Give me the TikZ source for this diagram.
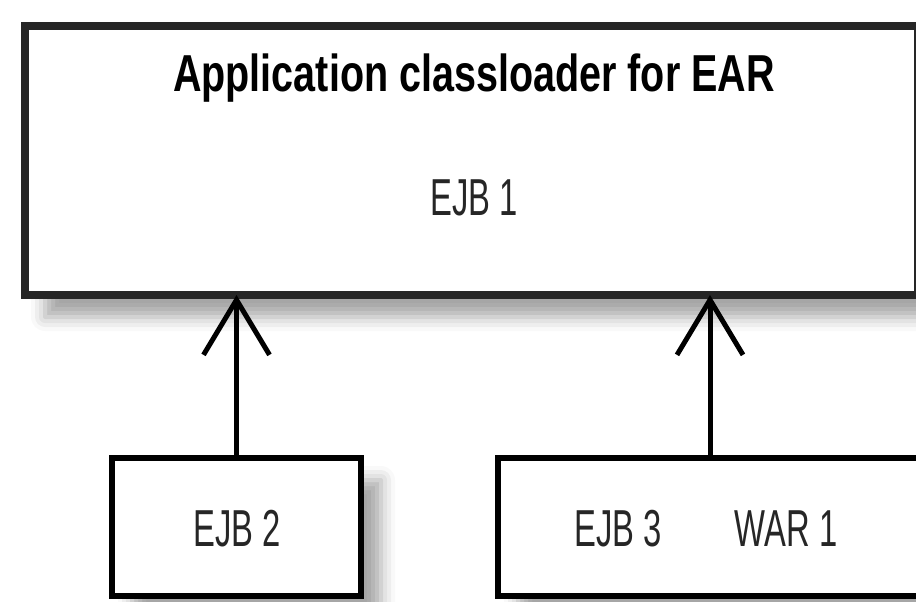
\documentclass[tikz,border=0pt]{standalone}
\usepackage{fontspec}
\usetikzlibrary{arrows.meta,shadows.blur}
\newfontfamily\titlefont[FakeStretch=0.76]{Liberation Sans}
\newfontfamily\labelfont[FakeStretch=0.63]{Liberation Sans}

\begin{document}
\begin{tikzpicture}[x=1pt,y=-1pt,
  shade/.style={blur shadow={shadow xshift=20pt, shadow yshift=-22pt,
      shadow blur radius=14pt, shadow opacity=35}},
  loaderbox/.style={shade, draw=black!85, line width=8pt, fill=white,
      inner sep=0pt, outer sep=0pt},
  modbox/.style={shade, draw=black, line width=6pt, fill=white,
      inner sep=0pt, outer sep=0pt},
  dep/.style={line width=5pt,
      -{Straight Barb[length=55pt,width=66pt,line width=5pt]}},
  title/.style={font=\titlefont\bfseries\fontsize{52}{52}\selectfont,
      anchor=base, inner sep=0pt},
  lbl/.style={font=\labelfont\fontsize{52}{52}\selectfont, text=black!85,
      anchor=base, inner sep=0pt}]
\useasboundingbox (0,0) rectangle (916,602);
\clip (0,0) rectangle (916,602);

% class loader of the EAR
\node[loaderbox, minimum width=893pt, minimum height=269pt] (ear) at (471.5,160.5) {};
\node[title] (eartitle) at (474,92) {Application classloader for EAR};
\node[lbl] (ejbone) at (474,215) {EJB 1};

% modules with their own loaders
\node[modbox, minimum width=249pt, minimum height=138pt] (ejbtwo) at (236.5,527) {};
\node[lbl] (ejbtwolbl) at (237,546) {EJB 2};

\node[modbox, minimum width=424pt, minimum height=138pt] (mixed) at (710,527) {};
\node[lbl] (ejbthree) at (618,546) {EJB 3};
\node[lbl] (warone) at (786,546) {WAR 1};

% parent delegation
\draw[dep] (ejbtwo.north) -- (ejbtwo.north |- ear.south);
\draw[dep] (mixed.north) -- (mixed.north |- ear.south);
\end{tikzpicture}
\end{document}
